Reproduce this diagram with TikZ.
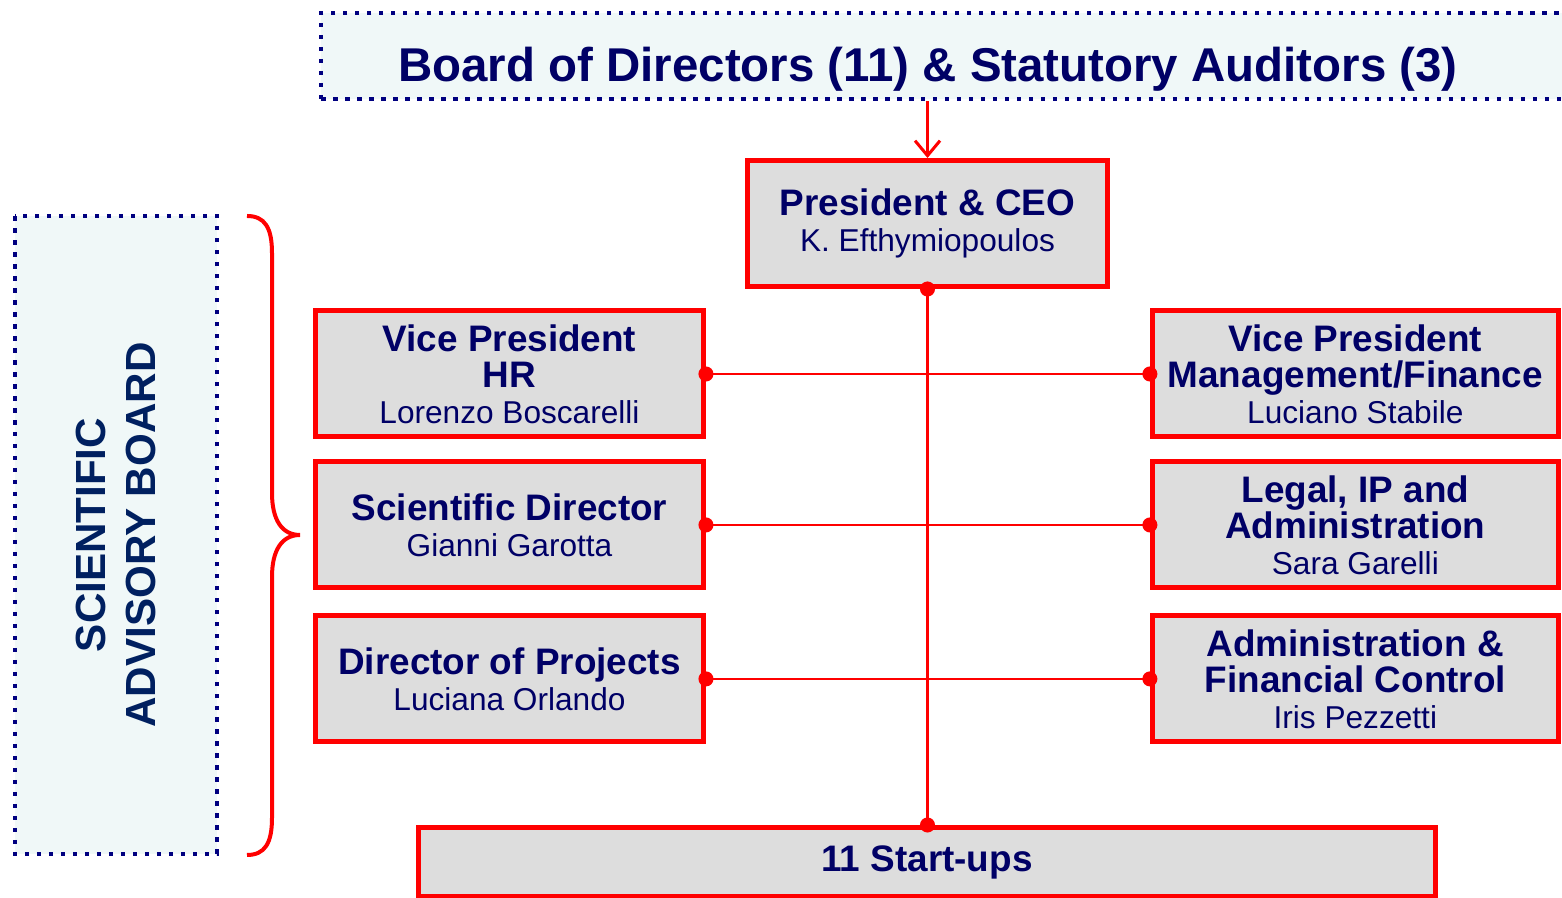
\documentclass[tikz,border=0pt]{standalone}
\usepackage{xcolor}
\usepackage{fontspec}
\setmainfont{Liberation Sans}
\usepackage{tikz}
\usetikzlibrary{arrows.meta, shapes, calc, positioning}
\definecolor{navytext}{RGB}{0,0,102}
\definecolor{sabtext}{RGB}{0,32,96}
\definecolor{dotnavy}{RGB}{0,0,128}
\definecolor{boardfill}{RGB}{240,248,248}
\definecolor{unitgray}{RGB}{221,221,221}
\newcommand{\person}[1]{\\{\mdseries\fontsize{18}{20.5}\selectfont #1}}
\tikzset {
    unit/.style = {
        draw = red,
        fill = unitgray,
        line width = 0.1cm,
        shape = rectangle,
        align = center,
        text = navytext,
        minimum height = 2.52cm,
        font = {\bfseries\fontsize{21}{20.5}\selectfont} % bold title lines
    },
    unit left/.style = {
        unit,
        minimum width = 7.76cm
    },
    unit right/.style = {
        unit,
        minimum width = 8.12cm
    },
    board/.style = {
        draw = dotnavy,
        fill = boardfill,
        line width = 0.09cm,
        dash pattern = on 0.09cm off 0.15cm
    },
    title/.style = {
        text = navytext,
        font = {\bfseries\fontsize{27}{32}\selectfont}
    },
    sab/.style = {
        board,
        align = center,
        text = sabtext,
        font = {\bfseries\fontsize{24}{28.4}\selectfont}
    },
    link/.style = {
        draw = red,
        line width = 0.05cm,
        {Circle[length=0.3cm]}-{Circle[length=0.3cm]},
        shorten <= -0.15cm,
        shorten >= -0.15cm
    },
    feed/.style = {
        draw = red,
        line width = 0.06cm,
        -{Straight Barb[length=0.3cm, width=0.5cm]}
    },
    brace/.style = {
        draw = red,
        line width = 0.08cm
    }
}

\begin{document}
\begin{tikzpicture}[x=0.02cm, y=0.02cm]
        \useasboundingbox (0, 0) rectangle (1562, 898);

        % Top : board, title, president
        \node [board, minimum width=27cm, minimum height=1.72cm] at (996, 842) (board) {};
        \node [title, anchor=base] at (928, 816)                    (boardtitle) {Board of Directors (11) \& Statutory Auditors (3)};
        \node [unit, minimum width=7.2cm] at (927.5, 674.5)         (ceo)   {President \& CEO\person{K. Efthymiopoulos}};

        % Left column : vice president, scientific, projects
        \node [unit left] at (509.5, 524)                           (hr)    {Vice President\\HR\person{Lorenzo Boscarelli}};
        \node [unit left, below=0.4cm of hr]                        (sci)   {Scientific Director\person{Gianni Garotta}};
        \node [unit left, below=0.46cm of sci]                      (proj)  {Director of Projects\person{Luciana Orlando}};

        % Right column : finance, legal, administration
        \node [unit right, right=8.88cm of hr]                      (vpf)   {Vice President\\Management/Finance\person{Luciano Stabile}};
        \node [unit right, right=8.88cm of sci]                     (legal) {Legal, IP and\\Administration\person{Sara Garelli}};
        \node [unit right, right=8.88cm of proj]                    (admin) {Administration \&\\Financial Control\person{Iris Pezzetti}};

        % Bottom row and advisory board
        \node [unit, minimum width=20.34cm, minimum height=1.38cm] at (927, 36) (startups) {11 Start-ups};
        \node [sab, rotate=90, minimum width=12.76cm, minimum height=4.04cm] at (116, 363) (sab) {SCIENTIFIC\\ADVISORY BOARD};

        \path [feed]    (board.south -| ceo.north)  --  (ceo.north);
        \path [link]    (ceo.south)     --  (ceo.south |- startups.north);
        \path [link]    (hr.east)       --  (vpf.west);
        \path [link]    (sci.east)      --  (legal.west);
        \path [link]    (proj.east)     --  (admin.west);

        % brace between advisory board and left column
        \path [brace]   (247, 682) .. controls (265, 682) and (272, 670) .. (272, 645)
                        -- (272, 405) .. controls (272, 378) and (282, 363) .. (300, 363)
                        .. controls (282, 363) and (272, 348) .. (272, 321)
                        -- (272, 80) .. controls (272, 55) and (265, 43) .. (247, 43);
    \end{tikzpicture}
\end{document}
